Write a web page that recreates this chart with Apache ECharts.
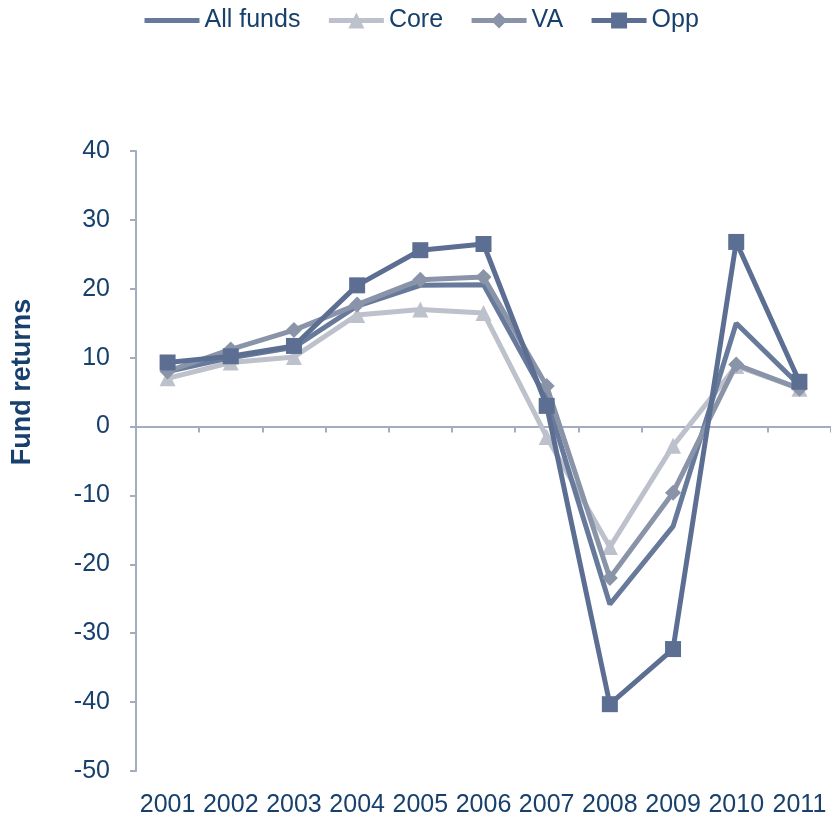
<!DOCTYPE html>
<html><head><meta charset="utf-8">
<script src="https://cdn.jsdelivr.net/npm/echarts@6/dist/echarts.min.js"></script>
<style>html,body{margin:0;padding:0;background:#fff}#c{width:831px;height:819px}</style>
</head><body><div id="c"></div>
<script>
const years = ['2001','2002','2003','2004','2005','2006','2007','2008','2009','2010','2011'];
const allFunds = [8.0, 10.0, 11.5, 17.5, 20.5, 20.6, 4.0, -25.8, -14.5, 15.0, 6.0];
const core = [7.0, 9.3, 10.1, 16.2, 17.0, 16.5, -1.5, -17.5, -2.8, 8.8, 5.5];
const va = [8.0, 11.2, 14.0, 17.7, 21.3, 21.7, 5.9, -22.0, -9.6, 9.0, 5.5];
const opp = [9.3, 10.2, 11.7, 20.5, 25.6, 26.5, 3.0, -40.3, -32.3, 26.8, 6.5];
const yTicks = {min: -50, max: 40, interval: 10};

const txt = '#17406d';
const axisCol = '#a3adbf';
const font = 'Liberation Sans';
const chart = echarts.init(document.getElementById('c'));
chart.setOption({
  animation: false,
  legend: {
    top: 3, left: 137, itemWidth: 55, itemHeight: 20, itemGap: 26,
    lineStyle: {width: 5},
    textStyle: {color: txt, fontSize: 25, fontFamily: font},
    data: [
      {name: 'All funds', itemStyle: {opacity: 0}},
      'Core', 'VA', 'Opp'
    ]
  },
  grid: {left: 136, top: 151, width: 700, height: 620, containLabel: false},
  xAxis: [{
    type: 'category', data: years, boundaryGap: true,
    axisLine: {onZero: true, lineStyle: {color: axisCol, width: 2}},
    axisTick: {show: true, length: 6, lineStyle: {color: axisCol, width: 2}},
    axisLabel: {show: false}
  }, {
    type: 'category', data: years, position: 'bottom', boundaryGap: true,
    axisLine: {show: false}, axisTick: {show: false},
    axisLabel: {color: txt, fontSize: 25, fontFamily: font, margin: 22, interval: 0}
  }],
  yAxis: {
    type: 'value', min: yTicks.min, max: yTicks.max, interval: yTicks.interval,
    axisLine: {show: true, lineStyle: {color: axisCol, width: 2}},
    axisTick: {show: true, length: 6, lineStyle: {color: axisCol, width: 2}},
    axisLabel: {color: txt, fontSize: 25, fontFamily: font, margin: 26},
    splitLine: {show: false}
  },
  graphic: [{
    type: 'text', x: 23, y: 382, rotation: Math.PI/2,
    style: {text: 'Fund returns', fill: txt, font: 'bold 27px "Liberation Sans"', textAlign: 'center', textVerticalAlign: 'middle'}
  }],
  series: [
    {name: 'All funds', type: 'line', data: allFunds, symbol: 'none', z: 3,
     lineStyle: {width: 5, color: '#687a9b'}, itemStyle: {color: '#687a9b'}},
    {name: 'Core', type: 'line', data: core, symbol: 'triangle', symbolSize: 16, z: 2,
     lineStyle: {width: 5, color: '#bdc1cb'}, itemStyle: {color: '#bdc1cb'}},
    {name: 'VA', type: 'line', data: va, symbol: 'diamond', symbolSize: 16, z: 4,
     lineStyle: {width: 5, color: '#8a94a9'}, itemStyle: {color: '#8a94a9'}},
    {name: 'Opp', type: 'line', data: opp, symbol: 'rect', symbolSize: 16, z: 5,
     lineStyle: {width: 5, color: '#5c6f93'}, itemStyle: {color: '#5c6f93'}}
  ]
});
</script></body></html>
